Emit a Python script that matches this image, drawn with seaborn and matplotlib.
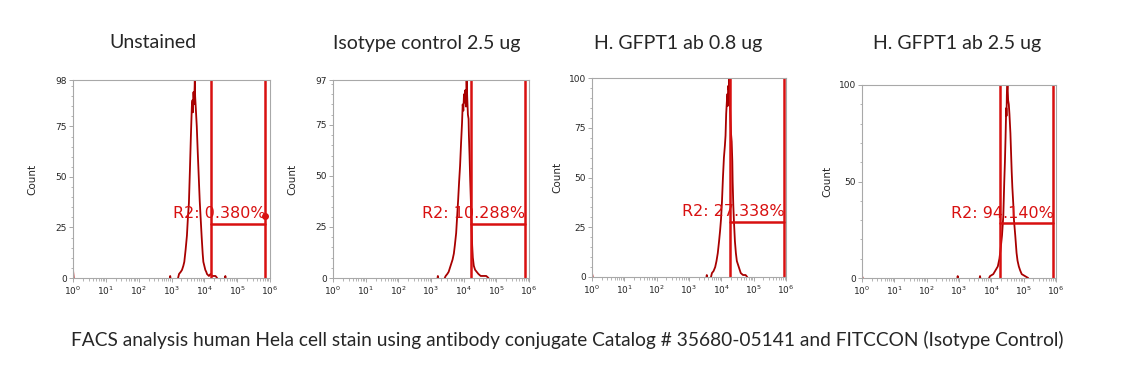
import numpy as np
import pandas as pd
import seaborn as sns
import matplotlib.pyplot as plt
from matplotlib.ticker import LogLocator, FixedLocator, MultipleLocator, NullFormatter

# panel titles and gate stats
titles = ['Unstained', 'Isotype control 2.5 ug', 'H. GFPT1 ab 0.8 ug', 'H. GFPT1 ab 2.5 ug']
y_max = [98, 97, 100, 100]
y_ticks = [[0, 25, 50, 75, 98], [0, 25, 50, 75, 97], [0, 25, 50, 75, 100], [0, 50, 100]]
gate_lo = [4.21, 4.22, 4.27, 4.28]   # log10 of gate edges
gate_hi = [5.84, 5.87, 5.94, 5.92]
gate_y = [26.8, 26.5, 27.7, 28.3]
gate_pct = ['R2: 0.380%', 'R2: 10.288%', 'R2: 27.338%', 'R2: 94.140%']
caption = 'FACS analysis human Hela cell stain using antibody conjugate Catalog # 35680-05141 and FITCCON (Isotype Control)'

# histograms: log10(FL1) and count
unst_x = [0.0, 0.02, 2.95, 2.96, 2.97, 3.20, 3.23, 3.28, 3.32, 3.36, 3.39, 3.43, 3.47, 3.50, 3.53,
          3.56, 3.59, 3.61, 3.62, 3.64, 3.65, 3.67, 3.69, 3.71, 3.72, 3.74, 3.77, 3.80, 3.83, 3.86,
          3.89, 3.92, 3.95, 3.97, 4.00, 4.03, 4.06, 4.08, 4.14, 4.19, 4.24, 4.34, 4.39, 4.63, 4.64, 4.65]
unst_y = [4, 0, 0, 1, 0, 0, 2, 3, 4, 6, 8, 14, 21, 30, 37,
          53, 70, 80, 85, 88, 82, 92, 86, 98, 90, 84, 75, 62, 50, 38,
          29, 20, 12, 8, 6, 4, 3, 2, 1, 2, 1, 1, 0, 0, 1, 0]

iso_x = [3.20, 3.21, 3.22, 3.42, 3.45, 3.50, 3.54, 3.58, 3.62, 3.66, 3.70, 3.73, 3.77, 3.80, 3.83,
         3.86, 3.89, 3.92, 3.95, 3.97, 3.99, 4.01, 4.03, 4.05, 4.07, 4.09, 4.11, 4.13, 4.15, 4.16,
         4.18, 4.20, 4.22, 4.24, 4.26, 4.28, 4.31, 4.35, 4.40, 4.45, 4.52, 4.60, 4.69, 4.76]
iso_y = [0, 1, 0, 0, 1, 2, 3, 5, 7, 9, 12, 16, 22, 30, 38,
         47, 55, 66, 76, 85, 82, 90, 86, 92, 84, 97, 88, 80, 78, 70,
         60, 48, 38, 26, 16, 10, 6, 4, 3, 2, 1, 1, 1, 0]

ab08_x = [0.0, 0.02, 3.54, 3.55, 3.56, 3.68, 3.71, 3.76, 3.81, 3.85, 3.89, 3.93, 3.96, 3.99, 4.02,
          4.05, 4.08, 4.11, 4.13, 4.15, 4.17, 4.19, 4.20, 4.21, 4.23, 4.24, 4.26, 4.28, 4.30, 4.32,
          4.34, 4.35, 4.37, 4.39, 4.42, 4.45, 4.48, 4.52, 4.56, 4.60, 4.67, 4.75, 4.80]
ab08_y = [2, 0, 0, 1, 0, 0, 2, 3, 5, 8, 12, 18, 23, 29, 38,
          50, 60, 66, 71, 82, 88, 92, 86, 96, 94, 100, 90, 80, 72, 68,
          58, 48, 36, 28, 18, 12, 8, 6, 4, 2, 1, 1, 0]

ab25_x = [0.0, 0.02, 2.95, 2.96, 2.97, 3.64, 3.65, 3.66, 3.93, 3.96, 4.06, 4.13, 4.20, 4.25, 4.28,
          4.33, 4.37, 4.40, 4.42, 4.44, 4.46, 4.47, 4.48, 4.50, 4.52, 4.54, 4.56, 4.59, 4.61, 4.63,
          4.65, 4.68, 4.70, 4.74, 4.78, 4.81, 4.85, 4.89, 4.94, 5.04, 5.14]
ab25_y = [1, 0, 0, 1, 0, 0, 1, 0, 0, 1, 2, 4, 6, 10, 14,
          22, 32, 50, 60, 73, 88, 84, 95, 100, 92, 90, 85, 75, 65, 55,
          47, 38, 30, 22, 13, 9, 6, 4, 2, 1, 0]

hist_x = [unst_x, iso_x, ab08_x, ab25_x]
hist_y = [unst_y, iso_y, ab08_y, ab25_y]

sns.set_style('white')
plt.rcParams['font.family'] = ['DejaVu Sans']

W, H = 1139, 378
fig = plt.figure(figsize=(W / 100, H / 100), dpi=100)

# axes boxes in pixels: left, top, right, bottom
boxes = [(73, 80, 270, 278), (333, 80, 529, 278), (592, 78, 786, 277), (862, 85, 1056, 278)]
title_cx = [153, 427, 678, 957]
ylab_x = [-0.18, -0.18, -0.155, -0.155]

hist_col = '#a80000'
gate_col = '#d81010'
frame_col = '#a8a8a8'

for i in range(4):
    l, t, r, b = boxes[i]
    ax = fig.add_axes([l / W, 1 - b / H, (r - l) / W, (b - t) / H])

    # break the trace where it runs along zero, so the baseline stays empty
    df = pd.DataFrame({'x': 10 ** np.array(hist_x[i]), 'y': hist_y[i]})
    zero_run = (df['y'] == 0) & (df['y'].shift(1) == 0)
    df['seg'] = zero_run.cumsum()
    sns.lineplot(data=df, x='x', y='y', units='seg', estimator=None, ax=ax,
                 color=hist_col, lw=1.3, sort=False)

    ax.set_xscale('log')
    ax.set_xlim(1, 1e6)
    ax.set_ylim(0, y_max[i])

    # gate region
    lo, hi = 10 ** gate_lo[i], 10 ** gate_hi[i]
    ax.axvline(lo, color=gate_col, lw=1.8)
    ax.axvline(hi, color=gate_col, lw=1.8)
    ax.plot([lo, hi], [gate_y[i], gate_y[i]], color=gate_col, lw=1.8)
    if i == 0:
        ax.plot([hi], [gate_y[i] + 4], 'o', color=gate_col, ms=4)
    ax.text(hi * 1.05, gate_y[i] + 1.2, gate_pct[i], color=gate_col, fontsize=11.5,
            ha='right', va='bottom')

    ax.xaxis.set_major_locator(FixedLocator([10 ** k for k in range(7)]))
    ax.set_xticklabels(['$10^{%d}$' % k for k in range(7)])
    ax.xaxis.set_minor_locator(LogLocator(base=10, subs=np.arange(2, 10), numticks=20))
    ax.xaxis.set_minor_formatter(NullFormatter())
    ax.set_yticks(y_ticks[i])
    ax.yaxis.set_minor_locator(MultipleLocator(10 if i == 3 else 5))

    ax.tick_params(which='major', length=3, width=0.7, color=frame_col, labelsize=6.5, pad=1.5,
                   direction='out', bottom=True, left=True)
    ax.tick_params(which='minor', length=1.8, width=0.6, color=frame_col, direction='out',
                   bottom=True, left=True)
    for s in ax.spines.values():
        s.set_color(frame_col)
        s.set_linewidth(0.8)

    ax.set_xlabel('')
    ax.set_ylabel('Count', fontsize=7.5)
    ax.yaxis.set_label_coords(ylab_x[i], 0.5)

    fig.text(title_cx[i] / W, 1 - 43 / H, titles[i], fontsize=14, family='Lato',
             ha='center', va='center')

fig.text(567 / W, 1 - 340 / H, caption, fontsize=13.8, family='Lato', ha='center', va='center')

plt.savefig('out.png', dpi=100)
plt.close()
